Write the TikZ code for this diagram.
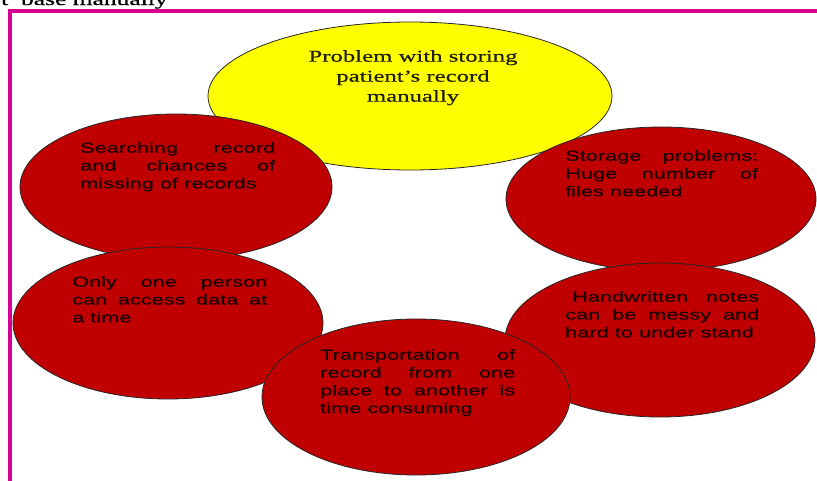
\documentclass[tikz,border=0pt]{standalone}
\usepackage{fontspec}
\usepackage{xcolor}
\usetikzlibrary{shapes.geometric}

\newfontfamily\bubblefont[FakeStretch=1.5, FakeBold=0.6]{Liberation Sans}
\newfontfamily\headfont[FakeStretch=1.5, FakeBold=0.6]{Liberation Serif}

\definecolor{framepink}{RGB}{214,0,147}
\definecolor{bubblered}{RGB}{192,0,0}
\definecolor{bubbleyellow}{RGB}{255,255,0}

\begin{document}
\begin{tikzpicture}[x=1pt, y=-1pt,
  bubble/.style={ellipse, draw=black!85, line width=0.8pt, fill=bubblered, inner sep=0pt},
  bubbletext/.style={anchor=north west, inner sep=0pt, text width=195pt, align=justify,
    text={rgb,255:red,30;green,0;blue,0},
    font=\bubblefont\fontsize{14.5}{17.8}\selectfont}]
\useasboundingbox (0,0) rectangle (817,480);

% line of text cut off above the box
\node[anchor=base west, inner sep=0pt, font=\headfont\fontsize{17}{20}\selectfont] (topline) at (1,5) {t\ \ base manually};

% Frame
\draw[framepink, line width=4pt] (10,490) -- (10,11) -- (830,11);

% Yellow ellipse
\node[bubble, fill=bubbleyellow, minimum width=404pt, minimum height=148pt] (main) at (410,96) {};
\node[anchor=north, inner sep=0pt, align=center, text={rgb,255:red,30;green,30;blue,0},
  font=\headfont\fontsize{16.5}{20}\selectfont] (maintxt) at (413,50) {Problem with storing\\patient’s record\\manually};

% Red ellipses
\node[bubble, minimum width=312pt, minimum height=146pt] (search) at (176,187) {};
\node[bubbletext] (searchtxt) at (80,142) {Searching record\linebreak and chances of\linebreak missing of records};

\node[bubble, minimum width=310pt, minimum height=144pt] (store) at (661,199) {};
\node[bubbletext, text width=193pt] (storetxt) at (565,150) {Storage problems:\linebreak Huge number of\linebreak files needed};

\node[bubble, minimum width=310pt, minimum height=152pt] (access) at (168,323) {};
\node[bubbletext] (accesstxt) at (72,276) {Only one person\linebreak can access data at\linebreak a time};

\node[bubble, minimum width=310pt, minimum height=154pt] (hand) at (660,340) {};
\node[bubbletext, text width=194pt] (handtxt) at (565,291) {\hspace*{7pt}Handwritten notes\linebreak can be messy and\linebreak hard to under stand};

\node[bubble, minimum width=308pt, minimum height=156pt] (trans) at (416,397) {};
\node[bubbletext] (transtxt) at (320,349) {Transportation of\linebreak record from one\linebreak place to another is\linebreak time consuming};
\end{tikzpicture}
\end{document}
